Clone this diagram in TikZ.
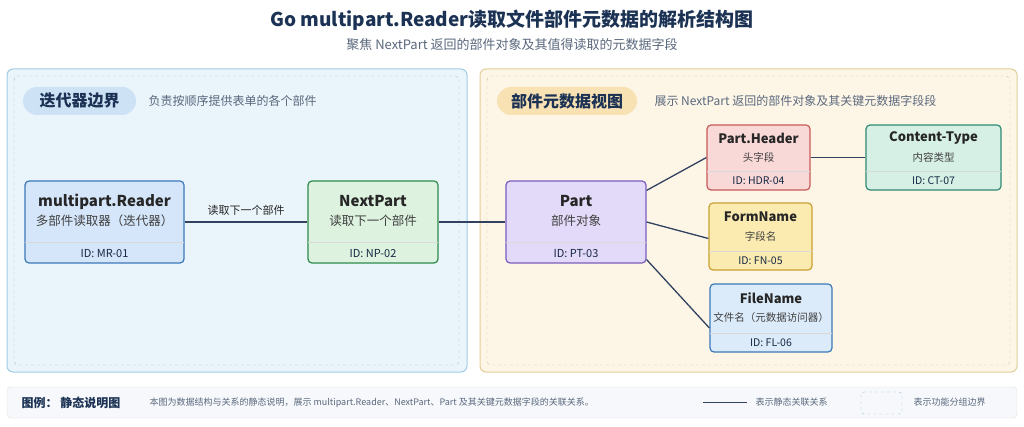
\documentclass[tikz,border=0pt]{standalone}
\usepackage{fontspec}
\setmainfont{Noto Sans CJK SC}
\usetikzlibrary{positioning}
\definecolor{navy}{RGB}{28,50,84}
\definecolor{subgray}{RGB}{90,104,125}
\definecolor{edgec}{RGB}{48,66,96}
\definecolor{lpanel}{RGB}{234,244,251}
\definecolor{lpanelb}{RGB}{160,205,230}
\definecolor{rpanel}{RGB}{253,246,230}
\definecolor{rpanelb}{RGB}{226,206,152}
\definecolor{lpill}{RGB}{205,226,245}
\definecolor{rpill}{RGB}{248,226,180}
\tikzset{
  box/.style={draw, line width=1.2pt, rounded corners=4pt},
  mrbox/.style={box, fill={rgb,255:red,213;green,230;blue,250}, draw={rgb,255:red,59;green,120;blue,184}},
  npbox/.style={box, fill={rgb,255:red,221;green,243;blue,224}, draw={rgb,255:red,46;green,139;blue,74}},
  ptbox/.style={box, fill={rgb,255:red,227;green,217;blue,248}, draw={rgb,255:red,122;green,92;blue,192}},
  hdbox/.style={box, fill={rgb,255:red,249;green,216;blue,216}, draw={rgb,255:red,200;green,90;blue,90}},
  ctbox/.style={box, fill={rgb,255:red,215;green,240;blue,230}, draw={rgb,255:red,46;green,138;blue,112}},
  fnbox/.style={box, fill={rgb,255:red,251;green,235;blue,176}, draw={rgb,255:red,201;green,160;blue,48}},
  flbox/.style={box, fill={rgb,255:red,220;green,235;blue,250}, draw={rgb,255:red,59;green,120;blue,184}},
  link/.style={draw=edgec, line width=1.3pt},
  pill/.style={rounded corners=14pt, minimum height=28pt, inner sep=0pt, font=\bfseries\fontsize{16}{16}\selectfont, text=navy},
  note/.style={anchor=west, text=subgray, font=\fontsize{12}{12}\selectfont},
  legend/.style={anchor=west, font=\fontsize{9}{9}\selectfont, text=subgray},
}
% #1 name, #2 style, #3 center, #4 width, #5 height, #6 id band, #7 title, #8 subtitle, #9 id
\newcommand\entity[9]{%
  \node[#2, minimum width=#4pt, minimum height=#5pt] (#1) at (#3) {};
  \draw[black!15, line width=0.8pt] ([yshift=#6pt,xshift=1pt]#1.south west) -- ([yshift=#6pt,xshift=-1pt]#1.south east);
  \node[text=navy!80!black, font=\entI] at ([yshift=#6pt/2]#1.south) {#9};
  \path (#1.north) -- ([yshift=#6pt]#1.south) coordinate[pos=0.5] (#1c);
  \node[text=black!85, font=\bfseries\entT] at ([yshift=10pt]#1c) {#7};
  \node[text=black!75, font=\entS] at ([yshift=-9pt]#1c) {#8};
}
\newcommand\entT{\fontsize{15}{15}\selectfont}
\newcommand\entS{\fontsize{12.5}{12.5}\selectfont}
\newcommand\entI{\fontsize{11}{11}\selectfont}

\begin{document}
\begin{tikzpicture}[x=1pt, y=-1pt]
  \useasboundingbox[fill=white] (0,0) rectangle (1024,427);

  % title
  \node[font=\bfseries\fontsize{19}{19}\selectfont, text=navy] (title) at (512,20) {Go multipart.Reader读取文件部件元数据的解析结构图};
  \node[font=\fontsize{13}{13}\selectfont, text=subgray] (subtitle) at (512,45) {聚焦 NextPart 返回的部件对象及其值得读取的元数据字段};

  % panels
  \draw[fill=lpanel, draw=lpanelb, line width=1pt, rounded corners=6pt] (7,69) rectangle (467,372);
  \draw[draw=lpanelb!80!gray, dashed, rounded corners=4pt] (14,76) rectangle (459,365);
  \draw[fill=rpanel, draw=rpanelb, line width=1pt, rounded corners=6pt] (480,69) rectangle (1017,372);
  \draw[draw=rpanelb!80!gray, dashed, rounded corners=4pt] (487,76) rectangle (1010,365);

  \node[pill, fill=lpill, minimum width=113pt] (lpill) at (79.5,101) {迭代器边界};
  \node[note] (lnote) at (145,101) {负责按顺序提供表单的各个部件};
  \node[pill, fill=rpill, minimum width=140pt] (rpill) at (567,101) {部件元数据视图};
  \node[note] (rnote) at (651,101) {展示 NextPart 返回的部件对象及其关键元数据字段段};

  % entities
  \entity{mr}{mrbox}{104.5,222}{159}{82}{21}{multipart.Reader}{多部件读取器（迭代器）}{ID: MR-01}
  \entity{np}{npbox}{373,222}{130}{82}{21}{NextPart}{读取下一个部件}{ID: NP-02}
  \entity{pt}{ptbox}{576,222}{140}{82}{21}{Part}{部件对象}{ID: PT-03}
  \renewcommand\entT{\fontsize{13}{13}\selectfont}
  \renewcommand\entS{\fontsize{10.5}{10.5}\selectfont}
  \renewcommand\entI{\fontsize{10.5}{10.5}\selectfont}
  \entity{hd}{hdbox}{758.5,157.5}{103}{65}{19}{Part.Header}{头字段}{ID: HDR-04}
  \entity{ct}{ctbox}{933.5,157.5}{135}{65}{19}{Content-Type}{内容类型}{ID: CT-07}
  \entity{fn}{fnbox}{760.5,236.5}{103}{67}{19}{FormName}{字段名}{ID: FN-05}
  \entity{fl}{flbox}{771,318}{122}{68}{19}{FileName}{文件名（元数据访问器）}{ID: FL-06}

  % connectors
  \draw[link] (mr) -- node[above=3pt, text=black!85, font=\fontsize{11}{11}\selectfont] {读取下一个部件} (np);
  \draw[link] (np) -- (pt);
  \draw[link] ([yshift=-10pt]pt.north east) -- (hd.west);
  \draw[link] (pt.east) -- ([yshift=-2pt]fn.west);
  \draw[link] ([yshift=4pt]pt.south east) -- ([yshift=-10pt]fl.west);
  \draw[link] (hd.east) -- (ct.west);

  % legend
  \draw[fill={rgb,255:red,246;green,248;blue,251}, draw=black!12, rounded corners=4pt] (7,387) rectangle (1017,418);
  \node[anchor=west, font=\bfseries\fontsize{12}{12}\selectfont, text=navy] (lgtitle) at (18,402.5) {图例：\ 静态说明图};
  \node[legend] (lgtext) at (146,402.5) {本图为数据结构与关系的静态说明，展示 multipart.Reader、NextPart、Part 及其关键元数据字段的关联关系。};
  \coordinate (la) at (703,402.5);
  \coordinate (lb) at (747,402.5);
  \draw[link] (la) -- (lb);
  \node[legend] (lgline) at (752,402.5) {表示静态关联关系};
  \draw[draw=lpanelb!80!gray, dashed, rounded corners=3pt] (861,392) rectangle (902,414);
  \node[legend] (lgbox) at (910,402.5) {表示功能分组边界};
\end{tikzpicture}
\end{document}
